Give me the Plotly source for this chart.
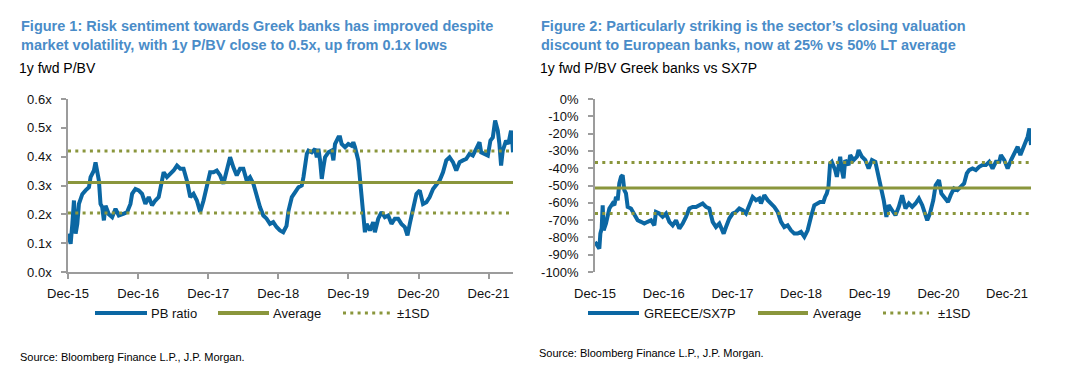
import numpy as np
import pandas as pd
import plotly.graph_objects as go

# The page body has an 8px margin, so the figure is drawn 8px smaller and all
# layout positions (given in window pixels) are shifted by that offset.
WIN_W, WIN_H = 1079, 383
OFF = 8
W, H = WIN_W - OFF, WIN_H - OFF
FONT = "Liberation Sans, Arial, sans-serif"
BLUE = "#0b67a3"
OLIVE = "#8a963c"
AXIS = "#9c9c9c"
TITLE_C = "#4a8cc8"

BASE = "2015-12-01"
X_END_YEARS = 6.35
TICK_VALS = ["2015-12-01", "2016-12-01", "2017-12-01", "2018-12-01",
             "2019-12-01", "2020-12-01", "2021-12-01"]
TICK_TEXT = ["Dec-15", "Dec-16", "Dec-17", "Dec-18", "Dec-19", "Dec-20", "Dec-21"]

# ---- Figure 1: 1y fwd P/BV (years since Dec-15, value in x) ----
PB_T = [0.000, 0.038, 0.062, 0.085, 0.109, 0.133, 0.156, 0.204, 0.251, 0.299,
        0.322, 0.370, 0.393, 0.417, 0.441, 0.464, 0.488, 0.512, 0.536, 0.583,
        0.630, 0.678, 0.725, 0.796, 0.844, 0.891, 0.915, 0.962, 1.009, 1.057,
        1.104, 1.152, 1.199, 1.246, 1.294, 1.341, 1.365, 1.412, 1.460, 1.507,
        1.555, 1.602, 1.649, 1.697, 1.744, 1.791, 1.839, 1.886, 1.934, 1.981,
        2.028, 2.076, 2.123, 2.171, 2.218, 2.265, 2.313, 2.360, 2.408, 2.455,
        2.502, 2.550, 2.597, 2.645, 2.692, 2.739, 2.787, 2.834, 2.882, 2.929,
        2.976, 3.024, 3.071, 3.118, 3.147, 3.194, 3.242, 3.289, 3.336, 3.360,
        3.408, 3.431, 3.479, 3.526, 3.550, 3.573, 3.597, 3.621, 3.645, 3.668,
        3.716, 3.763, 3.787, 3.810, 3.858, 3.882, 3.905, 3.953, 4.000, 4.047,
        4.071, 4.095, 4.142, 4.166, 4.190, 4.213, 4.237, 4.261, 4.308, 4.355,
        4.379, 4.427, 4.474, 4.521, 4.569, 4.616, 4.664, 4.711, 4.758, 4.806,
        4.844, 4.877, 4.924, 4.972, 5.019, 5.066, 5.114, 5.161, 5.209, 5.256,
        5.303, 5.351, 5.398, 5.445, 5.493, 5.540, 5.588, 5.635, 5.682, 5.730,
        5.777, 5.825, 5.872, 5.896, 5.943, 5.991, 6.028, 6.062, 6.095, 6.133,
        6.156, 6.180, 6.204, 6.251, 6.284, 6.322, 6.340, 6.350]
PB_V = [0.133, 0.098, 0.167, 0.248, 0.133, 0.167, 0.236, 0.270, 0.283, 0.294,
        0.329, 0.352, 0.380, 0.340, 0.317, 0.236, 0.225, 0.179, 0.230, 0.200,
        0.190, 0.219, 0.196, 0.202, 0.208, 0.236, 0.271, 0.288, 0.283, 0.271,
        0.236, 0.260, 0.231, 0.248, 0.260, 0.317, 0.346, 0.329, 0.340, 0.352,
        0.369, 0.358, 0.358, 0.317, 0.260, 0.271, 0.248, 0.208, 0.248, 0.306,
        0.346, 0.346, 0.352, 0.335, 0.306, 0.352, 0.398, 0.363, 0.335, 0.358,
        0.358, 0.317, 0.329, 0.306, 0.260, 0.225, 0.196, 0.185, 0.167, 0.173,
        0.156, 0.144, 0.138, 0.160, 0.213, 0.260, 0.277, 0.294, 0.300, 0.329,
        0.410, 0.421, 0.415, 0.427, 0.398, 0.427, 0.387, 0.323, 0.363, 0.398,
        0.415, 0.421, 0.387, 0.444, 0.467, 0.467, 0.444, 0.433, 0.444, 0.438,
        0.450, 0.433, 0.387, 0.317, 0.260, 0.167, 0.138, 0.167, 0.144, 0.173,
        0.138, 0.185, 0.208, 0.190, 0.196, 0.167, 0.185, 0.185, 0.167, 0.156,
        0.127, 0.167, 0.213, 0.271, 0.283, 0.236, 0.242, 0.260, 0.288, 0.300,
        0.317, 0.346, 0.387, 0.398, 0.381, 0.352, 0.381, 0.387, 0.392, 0.410,
        0.404, 0.427, 0.450, 0.415, 0.410, 0.404, 0.456, 0.467, 0.525, 0.490,
        0.444, 0.369, 0.421, 0.456, 0.444, 0.490, 0.456, 0.415]
PB_AVG = 0.31
PB_SD_UP = 0.42
PB_SD_DN = 0.205

# ---- Figure 2: GREECE/SX7P relative P/BV (%) ----
GR_T = [0.000, 0.039, 0.063, 0.078, 0.097, 0.112, 0.126, 0.160, 0.184, 0.209,
        0.257, 0.282, 0.306, 0.330, 0.354, 0.379, 0.403, 0.427, 0.451, 0.476,
        0.524, 0.573, 0.621, 0.670, 0.718, 0.767, 0.816, 0.864, 0.888, 0.937,
        0.985, 1.034, 1.083, 1.131, 1.180, 1.228, 1.277, 1.325, 1.374, 1.422,
        1.471, 1.519, 1.568, 1.617, 1.665, 1.714, 1.762, 1.811, 1.874, 1.908,
        1.956, 2.005, 2.053, 2.102, 2.150, 2.199, 2.248, 2.296, 2.345, 2.393,
        2.417, 2.466, 2.515, 2.563, 2.612, 2.660, 2.709, 2.757, 2.806, 2.854,
        2.903, 2.951, 3.000, 3.049, 3.097, 3.146, 3.194, 3.278, 3.327, 3.351,
        3.376, 3.400, 3.424, 3.449, 3.498, 3.522, 3.546, 3.571, 3.595, 3.620,
        3.644, 3.693, 3.717, 3.766, 3.815, 3.839, 3.888, 3.937, 3.985, 4.034,
        4.083, 4.132, 4.166, 4.205, 4.244, 4.278, 4.327, 4.376, 4.424, 4.473,
        4.522, 4.571, 4.620, 4.668, 4.717, 4.766, 4.815, 4.839, 4.878, 4.927,
        4.961, 5.010, 5.044, 5.083, 5.141, 5.180, 5.229, 5.278, 5.327, 5.376,
        5.415, 5.449, 5.498, 5.546, 5.595, 5.644, 5.693, 5.741, 5.790, 5.839,
        5.888, 5.912, 5.961, 6.010, 6.059, 6.107, 6.156, 6.195, 6.229, 6.278,
        6.302, 6.327, 6.340, 6.350]
GR_V = [-82.6, -84.6, -86.5, -77.8, -74.9, -61.4, -75.9, -72.0, -66.2, -63.3,
        -60.4, -61.4, -56.6, -58.5, -48.8, -45.0, -44.0, -52.7, -54.6, -62.4,
        -63.3, -67.2, -70.1, -71.0, -72.0, -71.0, -70.1, -73.0, -65.3, -66.2,
        -68.1, -66.2, -71.0, -73.0, -70.1, -74.9, -72.0, -68.1, -63.3, -62.4,
        -62.4, -61.4, -60.4, -62.4, -63.3, -71.0, -74.0, -72.0, -77.8, -74.0,
        -69.1, -66.2, -65.3, -63.3, -64.3, -66.2, -61.4, -56.6, -58.5, -57.5,
        -60.4, -55.6, -58.5, -60.4, -62.4, -65.3, -71.0, -74.0, -73.0, -75.9,
        -77.8, -77.8, -76.8, -79.7, -75.9, -68.1, -61.4, -59.5, -59.5, -56.6,
        -54.6, -50.8, -37.3, -36.3, -41.1, -45.0, -37.3, -33.4, -41.1, -45.9,
        -35.3, -38.2, -32.4, -35.3, -33.4, -29.5, -33.4, -35.3, -40.2, -35.3,
        -36.3, -45.0, -50.8, -58.5, -68.1, -61.4, -64.3, -67.2, -62.4, -55.6,
        -63.3, -60.4, -62.4, -60.4, -57.5, -61.4, -67.2, -70.1, -66.2, -58.5,
        -49.8, -46.9, -54.6, -56.6, -59.5, -55.6, -51.7, -52.7, -50.8, -48.8,
        -43.0, -41.1, -40.2, -41.1, -39.2, -38.2, -38.2, -36.3, -40.2, -36.3,
        -36.3, -32.4, -35.3, -40.2, -35.3, -31.5, -27.6, -32.4, -28.6, -24.7,
        -21.8, -17.0, -23.7, -26.6]
GR_AVG = -51.5
GR_SD_UP = -36.7
GR_SD_DN = -66.2

Y1_TICKS = [0.0, 0.1, 0.2, 0.3, 0.4, 0.5, 0.6]
Y1_TEXT = ["0.0x", "0.1x", "0.2x", "0.3x", "0.4x", "0.5x", "0.6x"]
Y2_TICKS = [0, -10, -20, -30, -40, -50, -60, -70, -80, -90, -100]
Y2_TEXT = ["0%", "-10%", "-20%", "-30%", "-40%", "-50%", "-60%", "-70%",
           "-80%", "-90%", "-100%"]

TITLE1 = ["Figure 1: Risk sentiment towards Greek banks has improved despite",
          "market volatility, with 1y P/BV close to 0.5x, up from 0.1x lows"]
SUB1 = "1y fwd P/BV"
TITLE2 = ["Figure 2: Particularly striking is the sector\u2019s closing valuation",
          "discount to European banks, now at 25% vs 50% LT average"]
SUB2 = "1y fwd P/BV Greek banks vs SX7P"
SOURCE = "Source: Bloomberg Finance L.P., J.P. Morgan."
LEGEND1 = ["PB ratio", "Average", "\u00b11SD"]
LEGEND2 = ["GREECE/SX7P", "Average", "\u00b11SD"]

base = pd.Timestamp(BASE)


def to_dates(ts):
    return [base + pd.Timedelta(days=float(t) * 365.25) for t in ts]


x_end = base + pd.Timedelta(days=X_END_YEARS * 365.25)
span = [base, x_end]

DOT = "3px,4.3px"
LW = 4

fig = go.Figure()
# Figure 1 traces
fig.add_trace(go.Scatter(x=to_dates(PB_T), y=PB_V, mode="lines", name=LEGEND1[0],
                         line=dict(color=BLUE, width=LW), xaxis="x", yaxis="y"))
fig.add_trace(go.Scatter(x=span, y=[PB_AVG, PB_AVG], mode="lines", name=LEGEND1[1],
                         line=dict(color=OLIVE, width=3), xaxis="x", yaxis="y"))
for v in (PB_SD_UP, PB_SD_DN):
    fig.add_trace(go.Scatter(x=span, y=[v, v], mode="lines", name=LEGEND1[2],
                             line=dict(color=OLIVE, width=3, dash=DOT), xaxis="x", yaxis="y"))
# Figure 2 traces
fig.add_trace(go.Scatter(x=to_dates(GR_T), y=GR_V, mode="lines", name=LEGEND2[0],
                         line=dict(color=BLUE, width=LW), xaxis="x2", yaxis="y2"))
fig.add_trace(go.Scatter(x=span, y=[GR_AVG, GR_AVG], mode="lines", name=LEGEND2[1],
                         line=dict(color=OLIVE, width=3), xaxis="x2", yaxis="y2"))
for v in (GR_SD_UP, GR_SD_DN):
    fig.add_trace(go.Scatter(x=span, y=[v, v], mode="lines", name=LEGEND2[2],
                             line=dict(color=OLIVE, width=3, dash=DOT), xaxis="x2", yaxis="y2"))
fig.update_traces(showlegend=False, hoverinfo="skip")


def px(x):
    return (x - OFF) / W


def py(y):
    return 1 - (y - OFF) / H


ydom = [py(272), py(99)]
tickfont = dict(family=FONT, size=13, color="#111111")
common_x = dict(type="date", range=span, tickvals=TICK_VALS, ticktext=TICK_TEXT,
                showgrid=False, zeroline=False, tickfont=tickfont, automargin=False)
common_y = dict(showgrid=False, zeroline=False, showline=True, linecolor=AXIS,
                linewidth=1.5, ticks="outside", ticklen=5, tickcolor=AXIS,
                tickwidth=1.5, tickfont=tickfont, ticklabelstandoff=7, automargin=False)

fig.update_layout(
    width=W, height=H, margin=dict(l=0, r=0, t=0, b=0, autoexpand=False),
    paper_bgcolor="white", plot_bgcolor="white", showlegend=False,
    xaxis=dict(domain=[px(68), px(513)], anchor="y", showline=True, linecolor=AXIS,
               linewidth=1.5, ticks="outside", ticklen=5, tickcolor=AXIS, tickwidth=1.5,
               ticklabelstandoff=4, **common_x),
    yaxis=dict(domain=ydom, anchor="x", range=[0, 0.6], tickvals=Y1_TICKS,
               ticktext=Y1_TEXT, **common_y),
    xaxis2=dict(domain=[px(595), px(1031)], anchor="y2", showline=False,
                ticks="outside", ticklen=5, tickcolor="rgba(0,0,0,0)",
                ticklabelstandoff=4, **common_x),
    xaxis3=dict(overlaying="x2", anchor="y2", side="top", showline=True,
                linecolor=AXIS, linewidth=1.5, ticks="inside", ticklen=5,
                tickcolor=AXIS, tickwidth=1.5, showticklabels=False,
                type="date", range=span, tickvals=TICK_VALS, showgrid=False,
                zeroline=False, automargin=False),
    yaxis2=dict(domain=ydom, anchor="x2", range=[-100, 0], tickvals=Y2_TICKS,
                ticktext=Y2_TEXT, **common_y),
)

ann = []


def text(x, y, s, size, color="#000000", bold=False):
    ann.append(dict(xref="paper", yref="paper", x=px(x), y=py(y), text=(f"<b>{s}</b>" if bold else s),
                    showarrow=False, xanchor="left", yanchor="middle",
                    font=dict(family=FONT, size=size, color=color)))


text(19, 26, TITLE1[0], 14.5, TITLE_C, True)
text(19, 45, TITLE1[1], 14.5, TITLE_C, True)
text(17, 68, SUB1, 14)
text(539, 26, TITLE2[0], 14.5, TITLE_C, True)
text(539, 45, TITLE2[1], 14.5, TITLE_C, True)
text(538, 68, SUB2, 14)
text(18, 357, SOURCE, 11)
text(537, 353, SOURCE, 11)

shapes = []


def legend_item(x0, x1, tx, label, color, dash=None):
    shapes.append(dict(type="line", xref="paper", yref="paper", x0=px(x0), x1=px(x1),
                       y0=py(313), y1=py(313),
                       line=dict(color=color, width=LW if dash is None else 3, dash=dash)))
    text(tx, 313, label, 13, "#111111")


legend_item(95, 147, 149, LEGEND1[0], BLUE)
legend_item(218, 269, 271, LEGEND1[1], OLIVE)
legend_item(343, 394, 395, LEGEND1[2], OLIVE, DOT)
legend_item(588, 639, 642, LEGEND2[0], BLUE)
legend_item(758, 808, 811, LEGEND2[1], OLIVE)
legend_item(883, 929, 936, LEGEND2[2], OLIVE, DOT)

fig.update_layout(annotations=ann, shapes=shapes)
fig.write_html("out.html")
